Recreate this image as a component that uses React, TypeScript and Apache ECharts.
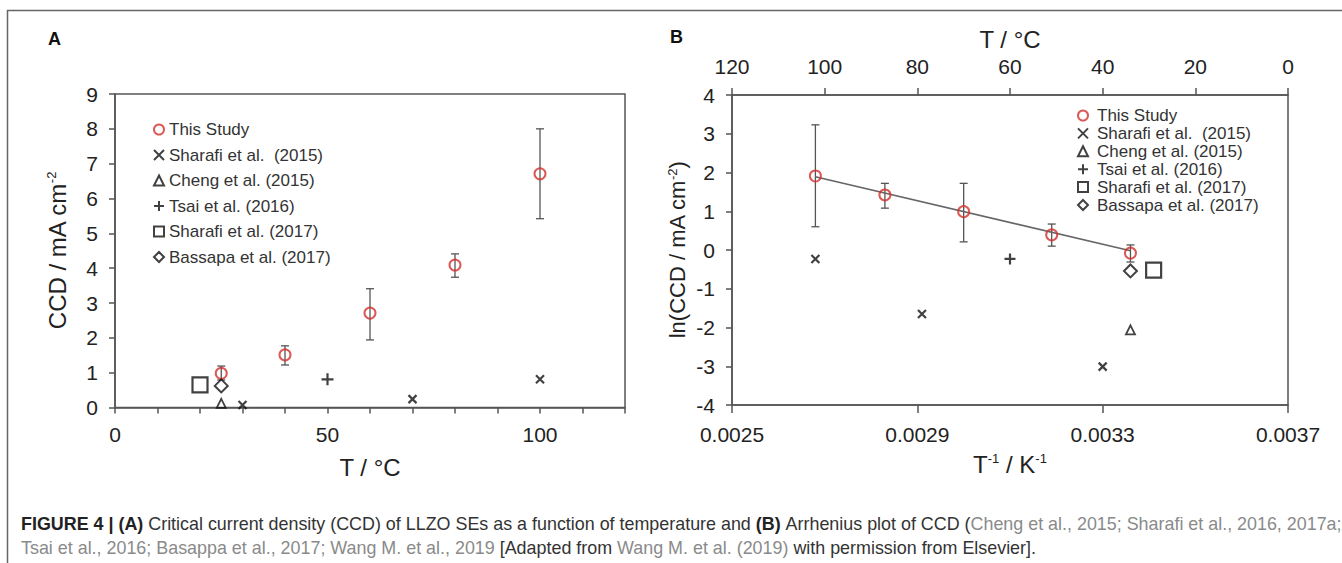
import React, { useEffect, useRef } from "react";
import * as echarts from "echarts";

// ---------- Panel A data: CCD vs temperature ----------
const tempsA = [25, 40, 60, 80, 100];
const ccdA = [0.98, 1.51, 2.71, 4.09, 6.71];
const ccdLowA = [0.79, 1.22, 1.94, 3.74, 5.42];
const ccdHighA = [1.19, 1.77, 3.41, 4.41, 8.0];
const sharafi15A = [[30, 0.07], [70, 0.24], [100, 0.81]];
const cheng15A = [[25, 0.12]];
const tsai16A = [[50, 0.81]];
const sharafi17A = [[20, 0.65]];
const bassapa17A = [[25, 0.62]];

// ---------- Panel B data: Arrhenius plot ----------
const invT = [0.00268, 0.00283, 0.003, 0.00319, 0.00336];
const lnCcd = [1.91, 1.42, 0.99, 0.39, -0.08];
const lnLow = [0.6, 1.08, 0.21, 0.1, -0.31];
const lnHigh = [3.23, 1.72, 1.72, 0.67, 0.13];
const fitLine = [[0.00268, 1.89], [0.00336, -0.02]];
const sharafi15B = [[0.00268, -0.23], [0.00291, -1.65], [0.0033, -3.01]];
const cheng15B = [[0.00336, -2.06]];
const tsai16B = [[0.0031, -0.23]];
const sharafi17B = [[0.00341, -0.52]];
const bassapa17B = [[0.00336, -0.54]];

const legendNames = [
  "This Study",
  "Sharafi et al.  (2015)",
  "Cheng et al. (2015)",
  "Tsai et al. (2016)",
  "Sharafi et al. (2017)",
  "Bassapa et al. (2017)",
];

const FONT = "'Liberation Sans', Arial, sans-serif";
const AXIS = "#555";
const RED = "#d2302c";
const DARK = "#222";
const CROSS = "path://M0,0L10,10M10,0L0,10";
const PLUS = "path://M5,0L5,10M0,5L10,5";

function markerStyle(color: string, width: number) {
  return { color: "rgba(0,0,0,0)", borderColor: color, borderWidth: width };
}

function errorBars(xIdx: number, yIdx: number, xs: number[], lo: number[], hi: number[], cap: number) {
  return {
    type: "custom",
    name: "err" + xIdx,
    xAxisIndex: xIdx,
    yAxisIndex: yIdx,
    z: 1,
    silent: true,
    encode: { x: 0, y: [1, 2] },
    data: xs.map((x, i) => [x, lo[i], hi[i]]),
    renderItem: (_p: any, api: any) => {
      const x = api.value(0);
      const a = api.coord([x, api.value(1)]);
      const b = api.coord([x, api.value(2)]);
      const st = { stroke: "#555", lineWidth: 1.3 };
      return {
        type: "group",
        children: [
          { type: "line", shape: { x1: a[0], y1: a[1], x2: b[0], y2: b[1] }, style: st },
          { type: "line", shape: { x1: a[0] - cap, y1: a[1], x2: a[0] + cap, y2: a[1] }, style: st },
          { type: "line", shape: { x1: b[0] - cap, y1: b[1], x2: b[0] + cap, y2: b[1] }, style: st },
        ],
      };
    },
  };
}

function scatterSet(xIdx: number, yIdx: number, main: number[][], sets: number[][][], sizes: number[]) {
  const symbols = ["circle", CROSS, "triangle", PLUS, "rect", "diamond"];
  const widths = [2, 2.2, 1.8, 2.2, 2.2, 2];
  const all = [main, ...sets];
  return all.map((d, i) => ({
    type: "scatter",
    name: legendNames[i],
    xAxisIndex: xIdx,
    yAxisIndex: yIdx,
    z: 3,
    symbol: symbols[i],
    symbolSize: sizes[i],
    itemStyle: markerStyle(i === 0 ? RED : "#111", widths[i]),
    data: d,
  }));
}

function tickStyle(len: number) {
  return { show: true, inside: false, length: len, lineStyle: { color: AXIS, width: 1.5 } };
}

const labelStyle = { fontSize: 21, color: DARK, fontFamily: FONT };
const nameStyle = (size: number) => ({
  fontSize: size,
  color: DARK,
  fontFamily: FONT,
  rich: { sup: { fontSize: 13, verticalAlign: "top", fontFamily: FONT, color: DARK } },
});

function legendFor(left: number, top: number, gap: number, pad: number) {
  return {
    orient: "vertical",
    left,
    top,
    padding: 0,
    itemWidth: 10,
    itemHeight: 10,
    itemGap: gap,
    selectedMode: false,
    data: legendNames,
    textStyle: { fontSize: 17, color: "#333", fontFamily: FONT, padding: [0, 0, 0, pad] },
  };
}

export default function App() {
  const ref = useRef<HTMLDivElement>(null);
  useEffect(() => {
    if (!ref.current) return;
    const chart = echarts.init(ref.current, undefined, { renderer: "svg" });
    const mainA = tempsA.map((t, i) => [t, ccdA[i]]);
    const mainB = invT.map((t, i) => [t, lnCcd[i]]);
    const option: any = {
      animation: false,
      backgroundColor: "#fff",
      textStyle: { fontFamily: FONT },
      grid: [
        { left: 115, top: 94, width: 510, height: 313.5, show: true, borderColor: AXIS, borderWidth: 1.5 },
        { left: 732, top: 95, width: 556, height: 310, show: true, borderColor: AXIS, borderWidth: 1.5 },
      ],
      xAxis: [
        {
          gridIndex: 0,
          type: "value",
          min: 0,
          max: 120,
          interval: 10,
          splitLine: { show: false },
          axisLine: { onZero: false, lineStyle: { color: AXIS, width: 1.5 } },
          axisTick: tickStyle(6),
          axisLabel: { ...labelStyle, margin: 16, formatter: (v: number) => (v % 50 === 0 ? String(v) : "") },
          name: "T / °C",
          nameLocation: "middle",
          nameGap: 48,
          nameTextStyle: nameStyle(24),
        },
        {
          gridIndex: 1,
          type: "value",
          min: 0.0025,
          max: 0.0037,
          interval: 0.0004,
          position: "bottom",
          splitLine: { show: false },
          axisLine: { onZero: false, lineStyle: { color: AXIS, width: 1.5 } },
          axisTick: tickStyle(8),
          axisLabel: { ...labelStyle, margin: 19, showMinLabel: true, showMaxLabel: true, formatter: (v: number) => v.toFixed(4) },
          name: "T{sup|-1} / K{sup|-1}",
          nameLocation: "middle",
          nameGap: 47,
          nameTextStyle: nameStyle(24),
        },
        {
          gridIndex: 1,
          type: "value",
          min: 0,
          max: 120,
          interval: 20,
          inverse: true,
          position: "top",
          splitLine: { show: false },
          axisLine: { show: true, onZero: false, lineStyle: { color: AXIS, width: 1.5 } },
          axisTick: tickStyle(7),
          axisLabel: { ...labelStyle, margin: 18, showMinLabel: true, showMaxLabel: true },
          name: "T / °C",
          nameLocation: "middle",
          nameGap: 42,
          nameTextStyle: nameStyle(24),
        },
      ],
      yAxis: [
        {
          gridIndex: 0,
          type: "value",
          min: 0,
          max: 9,
          interval: 1,
          splitLine: { show: false },
          axisLine: { show: true, onZero: false, lineStyle: { color: AXIS, width: 1.5 } },
          axisTick: tickStyle(6),
          axisLabel: { ...labelStyle, margin: 17 },
          name: "CCD / mA cm{sup|-2}",
          nameLocation: "middle",
          nameGap: 46,
          nameTextStyle: nameStyle(24),
        },
        {
          gridIndex: 1,
          type: "value",
          min: -4,
          max: 4,
          interval: 1,
          splitLine: { show: false },
          axisLine: { show: true, onZero: false, lineStyle: { color: AXIS, width: 1.5 } },
          axisTick: tickStyle(6),
          axisLabel: { ...labelStyle, margin: 17 },
          name: "ln(CCD / mA cm{sup|-2})",
          nameLocation: "middle",
          nameGap: 44,
          nameTextStyle: nameStyle(22),
        },
      ],
      legend: [legendFor(153, 121, 8.5, 0), legendFor(1077, 107, 0.9, 4)],
      series: [
        errorBars(0, 0, tempsA, ccdLowA, ccdHighA, 4),
        ...scatterSet(0, 0, mainA, [sharafi15A, cheng15A, tsai16A, sharafi17A, bassapa17A], [11, 8, 9, 12, 15, 13]),
        errorBars(1, 1, invT, lnLow, lnHigh, 4),
        {
          type: "line",
          name: "fit",
          xAxisIndex: 1,
          yAxisIndex: 1,
          z: 2,
          showSymbol: false,
          symbol: "none",
          silent: true,
          lineStyle: { color: "#666", width: 1.5 },
          data: fitLine,
        },
        ...scatterSet(1, 1, mainB, [sharafi15B, cheng15B, tsai16B, sharafi17B, bassapa17B], [11, 8, 9, 11, 15, 13]),
      ],
      graphic: [
        {
          type: "rect",
          shape: { x: 7.5, y: 10.5, width: 1400, height: 700 },
          style: { fill: "none", stroke: "#666", lineWidth: 1.5 },
          silent: true,
        },
        { type: "text", x: 48, y: 39, style: { text: "A", font: `bold 18px ${FONT}`, fill: "#111", verticalAlign: "middle" } },
        { type: "text", x: 670, y: 37, style: { text: "B", font: `bold 18px ${FONT}`, fill: "#111", verticalAlign: "middle" } },
        {
          type: "text",
          x: 21,
          y: 512,
          style: {
            text:
              "{b|FIGURE 4 | (A) }{n|Critical current density (CCD) of LLZO SEs as a function of temperature and }{b|(B) }{n|Arrhenius plot of CCD (}{g|Cheng et al., 2015; Sharafi et al., 2016, 2017a;}\n" +
              "{g|Tsai et al., 2016; Basappa et al., 2017; Wang M. et al., 2019 }{n|[Adapted from }{g|Wang M. et al. (2019) }{n|with permission from Elsevier].}",
            fontFamily: FONT,
            fontSize: 17.9,
            rich: {
              b: { fontSize: 17.9, fontWeight: "bold", fill: "#222", lineHeight: 24, fontFamily: FONT },
              n: { fontSize: 17.9, fill: "#333", lineHeight: 24, fontFamily: FONT },
              g: { fontSize: 17.9, fill: "#8a8a8a", lineHeight: 24, fontFamily: FONT },
            },
          },
        },
      ],
    };
    chart.setOption(option);
    return () => chart.dispose();
  }, []);
  return <div ref={ref} style={{ position: "absolute", left: 0, top: 0, width: 1342, height: 563 }} />;
}
